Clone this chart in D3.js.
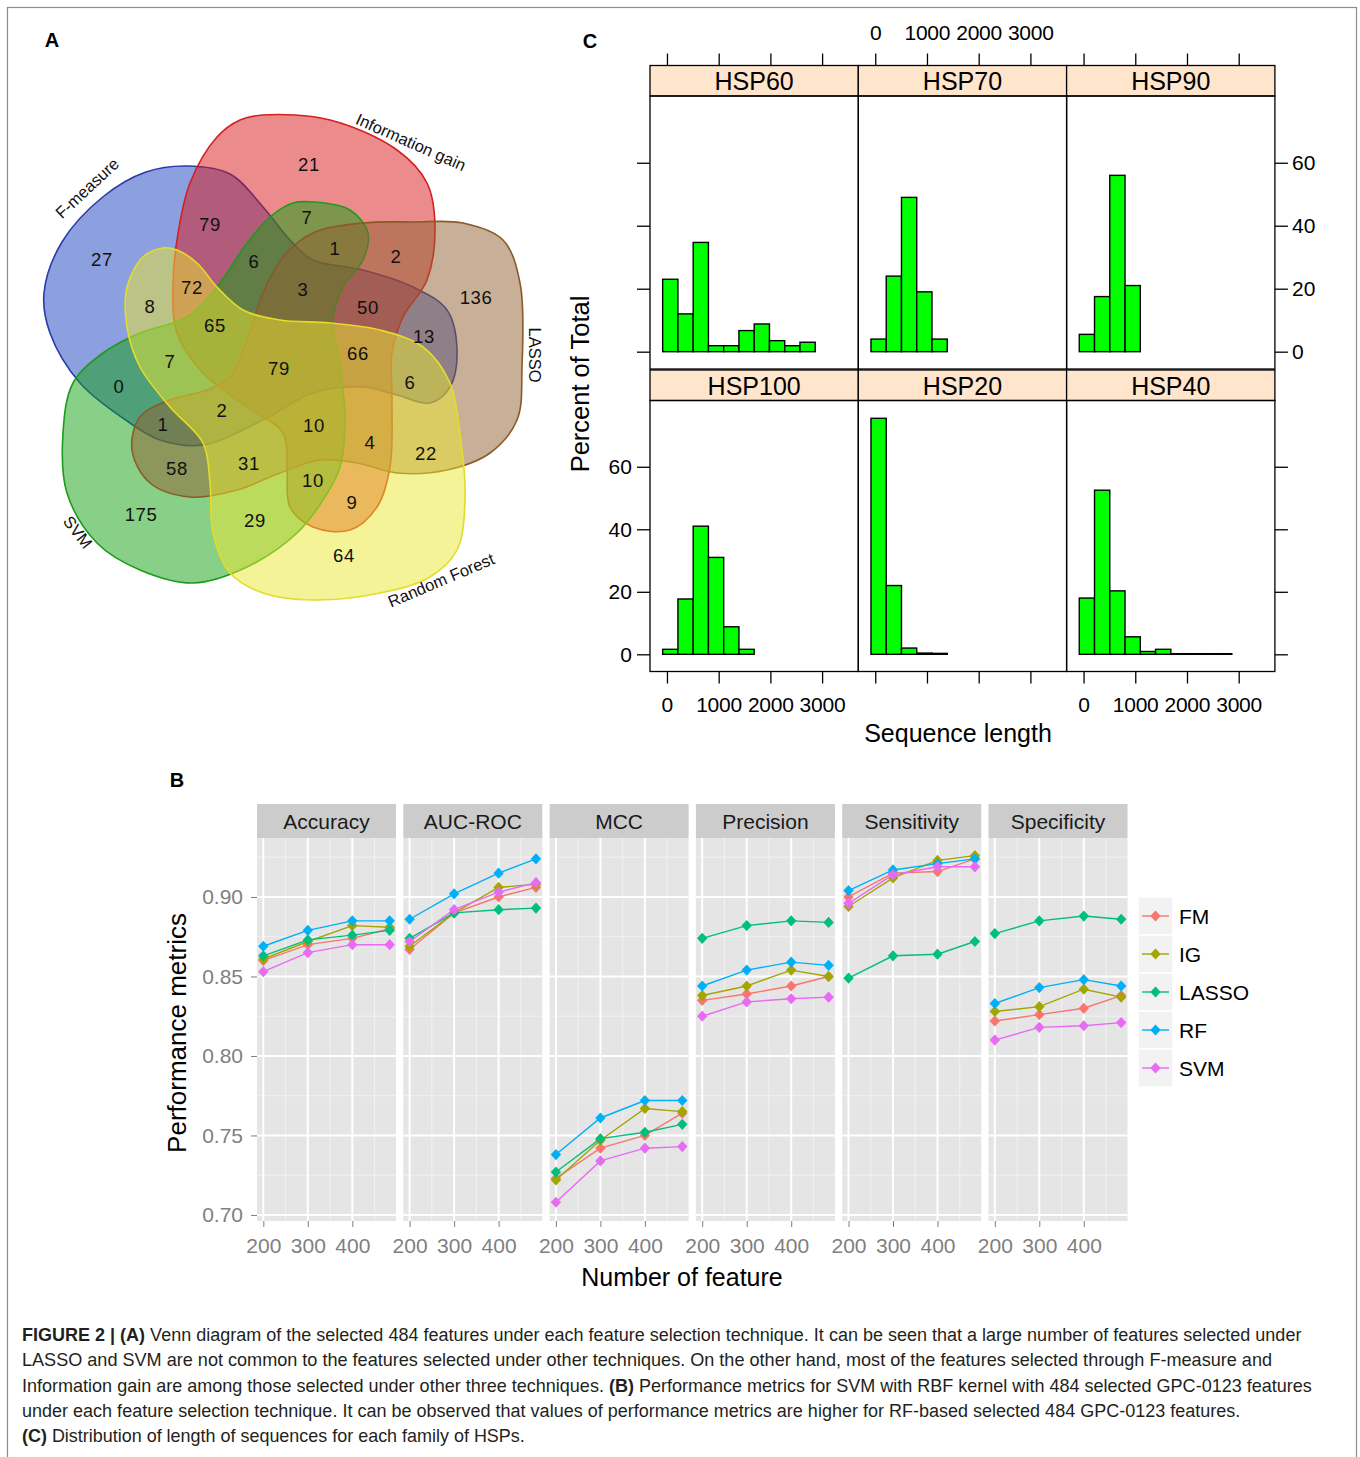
<!DOCTYPE html>
<html>
<head>
<meta charset="utf-8">
<script src="https://cdn.jsdelivr.net/npm/d3@7"></script>
<style>
  body { margin: 0; background: #fff; }
  svg { display: block; }
  text { font-family: "Liberation Sans", Arial, Helvetica, sans-serif; }
</style>
</head>
<body>
<script>
// ---------------- data : panel A (Venn) ----------------
const vennNames  = ["F-measure", "Information gain", "SVM", "LASSO", "Random Forest"];
const vennColors = ["#1a3fbf", "#d81818", "#12a012", "#916030", "#ece830"];
const vennStroke = ["#2a3aa8", "#d42020", "#1e9a1e", "#8a5a28", "#e2dc2a"];
const vennCounts = [21, 79, 7, 27, 6, 1, 2, 72, 3, 8, 65, 50, 136, 13, 7, 79,
                    66, 6, 0, 2, 1, 10, 4, 22, 58, 31, 10, 9, 175, 29, 64];

// ---------------- data : panel B (performance) ----------------
const nFeatures = [200, 300, 400, 484];
const methods = ["FM", "IG", "LASSO", "RF", "SVM"];
const methodColors = ["#F8766D", "#A3A500", "#00BF7D", "#00B0F6", "#E76BF3"];
const metrics = ["Accuracy", "AUC-ROC", "MCC", "Precision", "Sensitivity", "Specificity"];
const accuracy    = {FM: [0.860, 0.870, 0.874, 0.880], IG: [0.861, 0.872, 0.882, 0.881], LASSO: [0.863, 0.873, 0.876, 0.879], RF: [0.869, 0.879, 0.885, 0.885], SVM: [0.853, 0.865, 0.870, 0.870]};
const aucRoc      = {FM: [0.867, 0.890, 0.900, 0.906], IG: [0.869, 0.890, 0.906, 0.908], LASSO: [0.874, 0.890, 0.892, 0.893], RF: [0.886, 0.902, 0.915, 0.924], SVM: [0.872, 0.892, 0.903, 0.909]};
const mcc         = {FM: [0.723, 0.742, 0.750, 0.764], IG: [0.722, 0.747, 0.767, 0.765], LASSO: [0.727, 0.748, 0.752, 0.757], RF: [0.738, 0.761, 0.772, 0.772], SVM: [0.708, 0.734, 0.742, 0.743]};
const precision   = {FM: [0.835, 0.839, 0.844, 0.850], IG: [0.838, 0.844, 0.854, 0.850], LASSO: [0.874, 0.882, 0.885, 0.884], RF: [0.844, 0.854, 0.859, 0.857], SVM: [0.825, 0.834, 0.836, 0.837]};
const sensitivity = {FM: [0.900, 0.915, 0.916, 0.924], IG: [0.894, 0.912, 0.923, 0.926], LASSO: [0.849, 0.863, 0.864, 0.872], RF: [0.904, 0.917, 0.921, 0.924], SVM: [0.896, 0.914, 0.919, 0.919]};
const specificity = {FM: [0.822, 0.826, 0.830, 0.838], IG: [0.828, 0.831, 0.842, 0.837], LASSO: [0.877, 0.885, 0.888, 0.886], RF: [0.833, 0.843, 0.848, 0.844], SVM: [0.810, 0.818, 0.819, 0.821]};
const metricValues = [accuracy, aucRoc, mcc, precision, sensitivity, specificity];

// ---------------- data : panel C (histograms) ----------------
const hspFamilies = ["HSP60", "HSP70", "HSP90", "HSP100", "HSP20", "HSP40"];
const lengthBreaks = [-83, 212, 507, 802, 1097, 1392, 1687, 1982, 2277, 2572, 2867, 3162, 3457];
const hsp60  = [23.0, 12.0, 34.7, 1.9, 1.9, 6.7, 8.8, 3.5, 1.9, 3.0, 0, 0];
const hsp70  = [4.0, 24.0, 49.0, 19.0, 4.0, 0, 0, 0, 0, 0, 0, 0];
const hsp90  = [5.5, 17.5, 56.0, 21.0, 0, 0, 0, 0, 0, 0, 0, 0];
const hsp100 = [1.6, 17.7, 41.0, 31.0, 8.8, 1.6, 0, 0, 0, 0, 0, 0];
const hsp20  = [75.5, 22.0, 2.0, 0.4, 0.3, 0, 0, 0, 0, 0, 0, 0];
const hsp40  = [18.0, 52.5, 20.3, 5.6, 0.9, 1.6, 0.2, 0.2, 0.2, 0.2, 0, 0];
const hspPercents = [hsp60, hsp70, hsp90, hsp100, hsp20, hsp40];
const percentTicks = [0, 20, 40, 60];
const lengthTicks = [0, 1000, 2000, 3000];

// ---------------- layout for the Venn ----------------
const vennOutlines = [
  [[187,166],[230,174],[263,207],[290,240],[313,260],[363,270],[413,287],[447,310],[457,350],[450,387],[430,403],[397,395],[363,387],[313,393],[263,420],[203,445],[160,440],[130,423],[80,383],[50,333],[44,293],[62,242],[104,196],[146,172]],
  [[263,115],[330,120],[397,150],[427,183],[435,227],[427,280],[403,317],[392,353],[392,400],[390,467],[377,507],[350,530],[313,527],[290,507],[287,467],[283,433],[247,407],[203,373],[177,333],[173,287],[177,240],[190,183],[217,137],[240,120]],
  [[313,202],[350,210],[368,233],[363,260],[343,287],[333,320],[340,367],[345,417],[340,467],[323,500],[297,533],[247,567],[193,583],[140,570],[97,543],[67,493],[63,433],[73,383],[103,353],[140,333],[187,317],[217,287],[247,243],[270,217],[293,203]],
  [[363,223],[413,222],[463,223],[503,240],[520,283],[522,367],[517,420],[490,453],[447,470],[397,473],[357,463],[320,460],[280,473],[237,490],[190,497],[150,483],[132,450],[140,417],[170,400],[207,390],[230,377],[247,340],[263,293],[283,257],[313,233]],
  [[177,250],[197,263],[217,287],[243,310],[280,320],[330,323],[380,330],[423,347],[450,383],[460,433],[465,500],[457,550],[430,577],[380,593],[313,600],[263,593],[230,573],[213,533],[210,483],[203,443],[170,407],[140,367],[127,327],[127,287],[143,257],[163,248]]
];
const vennCountXY = [[309,165],[210,225],[307,218],[102,260],[254,262],[335,249],[396,257],[192,288],[303,290],[150,307],[215,326],[368,308],[476,298],[424,337],[170,362],[279,369],[358,354],[410,383],[119,387],[222,411],[163,425],[314,426],[370,443],[426,454],[177,469],[249,464],[313,481],[352,503],[141,515],[255,521],[344,556]];
const vennLabelXY = [[87,188,-43],[411,142,24],[78,532,52],[535,355,90],[441,580,-23]];

// ---------------- svg ----------------
const svg = d3.select('body').append('svg')
  .attr('width', 1360).attr('height', 1457);

svg.append('rect').attr('x', 7.5).attr('y', 7.5)
  .attr('width', 1349).attr('height', 1480)
  .attr('fill', 'none').attr('stroke', '#8c8c8c').attr('stroke-width', 1.2);

// panel letters
[['A', 52, 47], ['C', 590, 48], ['B', 177, 787]].forEach(function(p) {
  svg.append('text').attr('x', p[1]).attr('y', p[2])
    .attr('text-anchor', 'middle').attr('font-weight', 'bold')
    .attr('font-size', 20).text(p[0]);
});

// ================= panel A =================
const blob = d3.line().curve(d3.curveCatmullRomClosed.alpha(0.5));
const gA = svg.append('g');
vennOutlines.forEach(function(pts, i) {
  gA.append('path').attr('d', blob(pts))
    .attr('fill', vennColors[i]).attr('fill-opacity', 0.5)
    .attr('stroke', vennStroke[i]).attr('stroke-width', 1.6);
});
vennCounts.forEach(function(c, i) {
  gA.append('text').attr('x', vennCountXY[i][0]).attr('y', vennCountXY[i][1] + 6)
    .attr('text-anchor', 'middle').attr('font-size', 18.5).attr('fill', '#111')
    .attr('letter-spacing', 0.6).text(c);
});
vennNames.forEach(function(n, i) {
  const l = vennLabelXY[i];
  gA.append('text')
    .attr('transform', `translate(${l[0]},${l[1]}) rotate(${l[2]})`)
    .attr('y', 6).attr('text-anchor', 'middle').attr('font-size', 16.5)
    .attr('fill', '#111').text(n);
});

// ================= panel C =================
const cLeft = 650, cW = 208.3;
const cRows = [[96, 369], [400.5, 671.5]];
const stripH = 30.5;
const xC = d3.scaleLinear().domain([-328, 3700]).range([0, cW]);

hspFamilies.forEach(function(fam, k) {
  const col = k % 3, row = Math.floor(k / 3);
  const x0 = cLeft + col * cW;
  const yC = d3.scaleLinear().domain([-5.5, 81.2]).range([cRows[row][1], cRows[row][0]]);
  const g = svg.append('g').attr('transform', `translate(${x0},0)`);

  // strip
  g.append('rect').attr('y', cRows[row][0] - stripH).attr('width', cW).attr('height', stripH)
    .attr('fill', '#FFE5CC').attr('stroke', '#000').attr('stroke-width', 1.3);
  g.append('text').attr('x', cW / 2).attr('y', cRows[row][0] - 6)
    .attr('text-anchor', 'middle').attr('font-size', 25).text(fam);

  // bars
  const bins = hspPercents[k].map((v, j) => ({x0: lengthBreaks[j], x1: lengthBreaks[j + 1], v: v}));
  g.append('g').selectAll('rect').data(bins).join('rect')
    .attr('x', d => xC(d.x0)).attr('width', d => xC(d.x1) - xC(d.x0))
    .attr('y', d => yC(d.v)).attr('height', d => yC(0) - yC(d.v))
    .attr('fill', '#00FF00').attr('stroke', '#000').attr('stroke-width', 1.4);

  // panel border
  g.append('rect').attr('y', cRows[row][0]).attr('width', cW)
    .attr('height', cRows[row][1] - cRows[row][0])
    .attr('fill', 'none').attr('stroke', '#000').attr('stroke-width', 1.3);

  // left / right axes
  if (col === 0) {
    const ax = g.append('g').call(d3.axisLeft(yC).tickValues(percentTicks).tickSize(13)
      .tickFormat(row === 1 ? d3.format('d') : ''));
    ax.select('.domain').remove();
    ax.selectAll('line').attr('stroke-width', 1.3);
    ax.selectAll('text').attr('font-size', 21).attr('font-family', '"Liberation Sans", Arial').attr('fill', '#000').attr('dx', '-0.1em');
  }
  if (col === 2) {
    const ax = g.append('g').attr('transform', `translate(${cW},0)`)
      .call(d3.axisRight(yC).tickValues(percentTicks).tickSize(13)
      .tickFormat(row === 0 ? d3.format('d') : ''));
    ax.select('.domain').remove();
    ax.selectAll('line').attr('stroke-width', 1.3);
    ax.selectAll('text').attr('font-size', 21).attr('font-family', '"Liberation Sans", Arial').attr('fill', '#000').attr('dx', '0.05em');
  }
  // top / bottom axes
  if (row === 0) {
    const ax = g.append('g').attr('transform', `translate(0,${cRows[0][0] - stripH})`)
      .call(d3.axisTop(xC).tickValues(lengthTicks).tickSize(12).tickPadding(14)
      .tickFormat(col === 1 ? d3.format('d') : ''));
    ax.select('.domain').remove();
    ax.selectAll('line').attr('stroke-width', 1.3);
    ax.selectAll('text').attr('font-size', 21).attr('font-family', '"Liberation Sans", Arial').attr('fill', '#000').attr('textLength', function(d) { return d === 0 ? null : 46; });
  } else {
    const ax = g.append('g').attr('transform', `translate(0,${cRows[1][1]})`)
      .call(d3.axisBottom(xC).tickValues(lengthTicks).tickSize(12).tickPadding(14)
      .tickFormat(col !== 1 ? d3.format('d') : ''));
    ax.select('.domain').remove();
    ax.selectAll('line').attr('stroke-width', 1.3);
    ax.selectAll('text').attr('font-size', 21).attr('font-family', '"Liberation Sans", Arial').attr('fill', '#000').attr('textLength', function(d) { return d === 0 ? null : 46; });
  }
});
svg.append('text').attr('transform', 'translate(589,384) rotate(-90)')
  .attr('text-anchor', 'middle').attr('font-size', 25.5).text('Percent of Total');
svg.append('text').attr('x', 958).attr('y', 742)
  .attr('text-anchor', 'middle').attr('font-size', 25).text('Sequence length');

// ================= panel B =================
const bTop = 838, bBottom = 1221, bLeft = 257, bW = 139, bStep = 146.3;
const yB = d3.scaleLinear().domain([0.6962, 0.9371]).range([bBottom, bTop]);
const xB = d3.scaleLinear().domain([185.8, 498.2]).range([0, bW]);
const yMajor = [0.70, 0.75, 0.80, 0.85, 0.90];
const yMinor = [0.725, 0.775, 0.825, 0.875, 0.925];
const xMajor = [200, 300, 400];
const xMinor = [250, 350, 450];
const diamond = 'M0,-5.6L5.2,0L0,5.6L-5.2,0Z';

metrics.forEach(function(m, i) {
  const g = svg.append('g').attr('transform', `translate(${bLeft + i * bStep},0)`);
  g.append('rect').attr('y', bTop).attr('width', bW).attr('height', bBottom - bTop).attr('fill', '#E5E5E5');
  g.selectAll('.ymin').data(yMinor).join('line')
    .attr('x1', 0).attr('x2', bW).attr('y1', d => yB(d)).attr('y2', d => yB(d))
    .attr('stroke', '#F2F2F2').attr('stroke-width', 1);
  g.selectAll('.xmin').data(xMinor).join('line')
    .attr('x1', d => xB(d)).attr('x2', d => xB(d)).attr('y1', bTop).attr('y2', bBottom)
    .attr('stroke', '#F2F2F2').attr('stroke-width', 1);
  g.selectAll('.ymaj').data(yMajor).join('line')
    .attr('x1', 0).attr('x2', bW).attr('y1', d => yB(d)).attr('y2', d => yB(d))
    .attr('stroke', '#fff').attr('stroke-width', 2);
  g.selectAll('.xmaj').data(xMajor).join('line')
    .attr('x1', d => xB(d)).attr('x2', d => xB(d)).attr('y1', bTop).attr('y2', bBottom)
    .attr('stroke', '#fff').attr('stroke-width', 2);

  // strip
  g.append('rect').attr('y', 804).attr('width', bW).attr('height', bTop - 804).attr('fill', '#CCCCCC');
  g.append('text').attr('x', bW / 2).attr('y', 829).attr('text-anchor', 'middle')
    .attr('font-size', 21).attr('fill', '#1a1a1a').text(m);

  // series
  const line = d3.line().x((d, j) => xB(nFeatures[j])).y(d => yB(d));
  methods.forEach(function(s, si) {
    const vals = metricValues[i][s];
    g.append('path').attr('d', line(vals)).attr('fill', 'none')
      .attr('stroke', methodColors[si]).attr('stroke-width', 1.4);
    g.selectAll('.pt' + si).data(vals).join('path')
      .attr('d', diamond)
      .attr('transform', (d, j) => `translate(${xB(nFeatures[j])},${yB(d)})`)
      .attr('fill', methodColors[si]);
  });

  // x axis
  const ax = g.append('g').attr('transform', `translate(0,${bBottom})`)
    .call(d3.axisBottom(xB).tickValues(xMajor).tickSize(6).tickPadding(11));
  ax.select('.domain').remove();
  ax.selectAll('line').attr('stroke', '#7f7f7f');
  ax.selectAll('text').attr('font-size', 21).attr('fill', '#7f7f7f')
    .attr('font-family', '"Liberation Sans", Arial');
});

// y axis
const yAx = svg.append('g').attr('transform', `translate(${bLeft},0)`)
  .call(d3.axisLeft(yB).tickValues(yMajor).tickFormat(d3.format('.2f')).tickSize(6).tickPadding(8));
yAx.select('.domain').remove();
yAx.selectAll('line').attr('stroke', '#7f7f7f');
yAx.selectAll('text').attr('font-size', 21).attr('fill', '#7f7f7f')
  .attr('font-family', '"Liberation Sans", Arial');

svg.append('text').attr('transform', 'translate(186,1033) rotate(-90)')
  .attr('text-anchor', 'middle').attr('font-size', 26).text('Performance metrics');
svg.append('text').attr('x', 682).attr('y', 1286)
  .attr('text-anchor', 'middle').attr('font-size', 25).text('Number of feature');

// legend
const lg = svg.append('g').attr('transform', 'translate(1138,897)');
methods.forEach(function(s, si) {
  const row = lg.append('g').attr('transform', `translate(0,${si * 38})`);
  row.append('rect').attr('width', 35).attr('height', 38).attr('fill', '#F2F2F2')
    .attr('stroke', '#fff').attr('stroke-width', 1.5);
  row.append('line').attr('x1', 4).attr('x2', 31).attr('y1', 19).attr('y2', 19)
    .attr('stroke', methodColors[si]).attr('stroke-width', 1.4);
  row.append('path').attr('d', diamond).attr('transform', 'translate(17.5,19)')
    .attr('fill', methodColors[si]);
  row.append('text').attr('x', 41).attr('y', 27).attr('font-size', 21).text(s);
});

// ================= caption =================
const captionLines = [
  [['FIGURE 2 | (A)', true], [' Venn diagram of the selected 484 features under each feature selection technique. It can be seen that a large number of features selected under', false]],
  [['LASSO and SVM are not common to the features selected under other techniques. On the other hand, most of the features selected through F-measure and', false]],
  [['Information gain are among those selected under other three techniques. ', false], ['(B)', true], [' Performance metrics for SVM with RBF kernel with 484 selected GPC-0123 features', false]],
  [['under each feature selection technique. It can be observed that values of performance metrics are higher for RF-based selected 484 GPC-0123 features.', false]],
  [['(C)', true], [' Distribution of length of sequences for each family of HSPs.', false]]
];
const captionEnds = [1302, 1273, 1313, 1241, 525];
captionLines.forEach(function(parts, i) {
  const t = svg.append('text').attr('font-size', 18).attr('fill', '#231f20')
    .attr('font-family', '"Liberation Sans Narrow", "Liberation Sans", Arial');
  parts.forEach(function(p) {
    t.append('tspan').attr('font-weight', p[1] ? 'bold' : 'normal').text(p[0]);
  });
  const w = t.node().getComputedTextLength();
  const k = (captionEnds[i] - 22) / w;
  t.attr('transform', `translate(22,${1341 + i * 25.3}) scale(${k},1)`);
});
</script>
</body>
</html>
